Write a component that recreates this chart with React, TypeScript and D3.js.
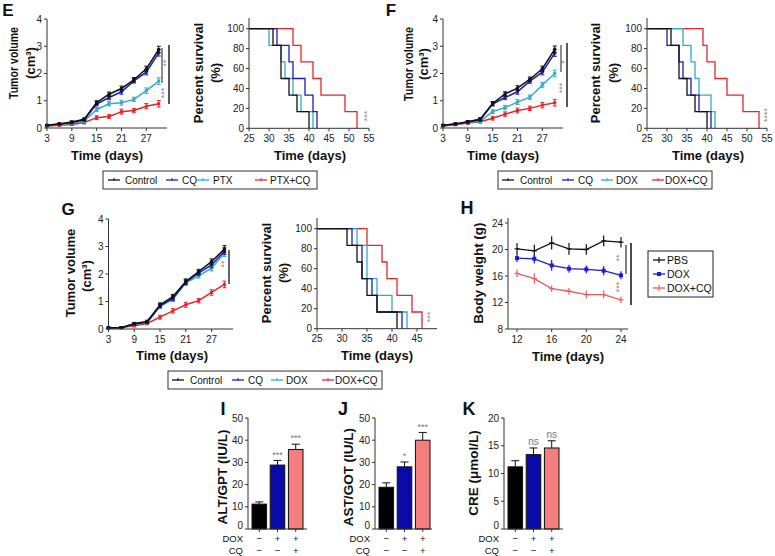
import React from 'react';
import * as d3 from 'd3';

const FONT = '"Liberation Sans", Arial, Helvetica, sans-serif';

// ---------- Tumor volume data (cm3) ----------
const tumorDays = [3, 6, 9, 12, 15, 18, 21, 24, 27, 30];
const tumorTicksX = [3, 9, 15, 21, 27];
const tumorTicksY = [0, 1, 2, 3, 4];
const tumorErr = [0.02, 0.03, 0.04, 0.05, 0.07, 0.08, 0.09, 0.08, 0.1, 0.12];

const eControl = [0.1, 0.15, 0.22, 0.32, 0.93, 1.24, 1.45, 1.77, 2.17, 2.88];
const eCQ = [0.1, 0.15, 0.2, 0.3, 0.88, 1.12, 1.33, 1.73, 2.05, 2.76];
const ePTX = [0.08, 0.13, 0.18, 0.25, 0.68, 0.89, 0.93, 1.05, 1.37, 1.72];
const ePTXCQ = [0.07, 0.1, 0.13, 0.2, 0.38, 0.42, 0.6, 0.64, 0.8, 0.89];

const fControl = [0.1, 0.15, 0.23, 0.33, 0.9, 1.25, 1.46, 1.79, 2.17, 2.89];
const fCQ = [0.1, 0.15, 0.22, 0.3, 0.88, 1.12, 1.33, 1.72, 2.05, 2.75];
const fDOX = [0.08, 0.13, 0.2, 0.25, 0.6, 0.75, 0.95, 1.13, 1.58, 2.0];
const fDOXCQ = [0.07, 0.12, 0.18, 0.23, 0.36, 0.51, 0.64, 0.72, 0.84, 0.93];

const gControl = [0.05, 0.05, 0.2, 0.27, 0.88, 1.18, 1.73, 2.09, 2.45, 2.91];
const gCQ = [0.05, 0.05, 0.18, 0.25, 0.84, 1.12, 1.7, 2.03, 2.33, 2.83];
const gDOX = [0.05, 0.05, 0.17, 0.23, 0.82, 1.08, 1.68, 1.93, 2.21, 2.76];
const gDOXCQ = [0.03, 0.05, 0.12, 0.2, 0.43, 0.66, 0.88, 1.03, 1.33, 1.62];

// ---------- Survival data: [day, percent] steps ----------
const survTicksY = [0, 20, 40, 60, 80, 100];
const survTicksX55 = [25, 30, 35, 40, 45, 50, 55];
const survTicksX45 = [25, 30, 35, 40, 45];

const eSurvControl = [[25, 100], [31, 83.3], [33, 50], [35, 33.3], [37, 16.7], [40, 0]];
const eSurvCQ = [[25, 100], [32, 83.3], [35, 66.7], [36, 50], [39, 33.3], [41, 16.7], [42, 0]];
const eSurvPTX = [[25, 100], [30, 83.3], [33, 66.7], [34, 50], [36, 33.3], [38, 16.7], [41, 0]];
const eSurvPTXCQ = [[25, 100], [36, 83.3], [38, 66.7], [41, 50], [43, 33.3], [49, 16.7], [52, 0]];

const fSurvControl = [[25, 100], [31, 83.3], [33, 50], [35, 33.3], [37, 16.7], [40, 0]];
const fSurvCQ = [[25, 100], [30, 83.3], [33, 66.7], [34, 50], [36, 33.3], [38, 16.7], [41, 0]];
const fSurvDOX = [[25, 100], [34, 83.3], [36, 66.7], [37, 50], [38, 33.3], [41, 16.7], [42, 0]];
const fSurvDOXCQ = [[25, 100], [39, 83.3], [40, 66.7], [42, 50], [45, 33.3], [49, 16.7], [53, 0]];

const gSurvControl = [[25, 100], [31, 83.3], [33, 66.7], [34, 50], [35, 33.3], [37, 16.7], [41, 0]];
const gSurvCQ = [[25, 100], [32, 83.3], [34, 50], [36, 33.3], [37, 16.7], [42, 0]];
const gSurvDOX = [[25, 100], [33, 83.3], [35, 50], [37, 33.3], [40, 16.7], [43, 0]];
const gSurvDOXCQ = [[25, 100], [35, 83.3], [38, 66.7], [39, 50], [41, 33.3], [44, 16.7], [46, 0]];

// ---------- Body weight (g) ----------
const hDays = [12, 14, 16, 18, 20, 22, 24];
const hTicksX = [12, 16, 20, 24];
const hTicksY = [8, 12, 16, 20, 24];
const hPBS = [20.1, 19.8, 21.0, 20.1, 20.0, 21.3, 21.1];
const hPBSErr = [0.9, 0.9, 1.0, 0.9, 0.8, 0.8, 0.8];
const hDOX = [18.7, 18.6, 17.6, 17.1, 17.0, 16.8, 16.1];
const hDOXErr = [0.6, 0.7, 0.8, 0.6, 0.6, 0.7, 0.6];
const hDOXCQ = [16.4, 15.6, 14.1, 13.7, 13.2, 13.2, 12.4];
const hDOXCQErr = [0.6, 0.8, 0.5, 0.5, 0.6, 0.6, 0.5];

// ---------- Serum biochemistry ----------
const doxRow = ['−', '+', '+'];
const cqRow = ['−', '−', '+'];
const iValues = [11.2, 28.8, 35.8];
const iErr = [1.0, 2.1, 2.4];
const iSig = ['', '***', '***'];
const jValues = [18.8, 28.0, 40.0];
const jErr = [2.0, 2.2, 3.5];
const jSig = ['', '*', '***'];
const kValues = [11.2, 13.4, 14.6];
const kErr = [1.1, 1.2, 1.3];
const kSig = ['', 'ns', 'ns'];
const barTicks50 = [0, 10, 20, 30, 40, 50];
const barTicks20 = [0, 5, 10, 15, 20];

// ---------- legends ----------
const legendE = ['Control', 'CQ', 'PTX', 'PTX+CQ'];
const legendFG = ['Control', 'CQ', 'DOX', 'DOX+CQ'];
const legendH = ['PBS', 'DOX', 'DOX+CQ'];

const C_BLACK = '#111';
const C_BLUE = '#1c1cb8';
const C_TEAL = '#33abc6';
const C_RED = '#e4262b';
const AX = '#333';
const TICK_FS = 10;

function Rot({ x, y, children, fs = 13, len, bold = true, fill = '#111' }: any) {
  return (
    <text
      transform={`translate(${x},${y}) rotate(-90)`}
      textAnchor="middle"
      dy="0.35em"
      fontSize={fs}
      fontWeight={bold ? 'bold' : 'normal'}
      fill={fill}
      textLength={len}
      lengthAdjust={len ? 'spacingAndGlyphs' : undefined}
    >
      {children}
    </text>
  );
}

function Label({ x, y, children, fs = 13, anchor = 'middle', bold = true, fill = '#111' }: any) {
  return (
    <text x={x} y={y} dy="0.35em" textAnchor={anchor} fontSize={fs} fontWeight={bold ? 'bold' : 'normal'} fill={fill}>
      {children}
    </text>
  );
}

function YAxis({ x, scale, ticks, top, zeroShift = 0 }: any) {
  const [r0, r1] = scale.range();
  return (
    <g>
      <line x1={x} x2={x} y1={top ?? r1} y2={r0} stroke={AX} strokeWidth={1} />
      {ticks.map((t: number) => (
        <g key={t}>
          <line x1={x - 3} x2={x} y1={scale(t)} y2={scale(t)} stroke={AX} />
          <text
            x={x - 5}
            y={scale(t) - (t === 0 ? zeroShift : 0)}
            dy="0.35em"
            textAnchor="end"
            fontSize={TICK_FS}
            fill="#222"
          >
            {t}
          </text>
        </g>
      ))}
    </g>
  );
}

function XAxis({ y, scale, ticks, left, right }: any) {
  const [r0, r1] = scale.range();
  return (
    <g>
      <line x1={left ?? r0} x2={right ?? r1} y1={y} y2={y} stroke={AX} strokeWidth={1} />
      {ticks.map((t: number) => (
        <g key={t}>
          <line x1={scale(t)} x2={scale(t)} y1={y} y2={y + 3} stroke={AX} />
          <text x={scale(t)} y={y + 10} dy="0.35em" textAnchor="middle" fontSize={TICK_FS} fill="#222">
            {t}
          </text>
        </g>
      ))}
    </g>
  );
}

function TumorPanel({ axisX, xEnd, yTop, yBottom, series }: any) {
  const x = d3.scaleLinear().domain([3, 32]).range([axisX, xEnd]);
  const y = d3.scaleLinear().domain([0, 4]).range([yBottom, yTop]);
  const line = d3
    .line<number>()
    .x((_, i) => x(tumorDays[i]))
    .y((d) => y(d));
  return (
    <g>
      {series.map((s: any, si: number) => (
        <g key={si}>
          <path d={line(s.values) || ''} fill="none" stroke={s.color} strokeWidth={1.5} />
          {s.values.map((v: number, i: number) => {
            const cx = x(tumorDays[i]);
            const e = tumorErr[i];
            return (
              <g key={i} stroke={s.color} strokeWidth={1}>
                <line x1={cx} x2={cx} y1={y(v + e)} y2={y(v - e)} />
                <line x1={cx - 2} x2={cx + 2} y1={y(v + e)} y2={y(v + e)} />
                <line x1={cx - 2} x2={cx + 2} y1={y(v - e)} y2={y(v - e)} />
                <rect x={cx - 1.5} y={y(v) - 1.5} width={3} height={3} fill={s.color} stroke="none" />
              </g>
            );
          })}
        </g>
      ))}
      <YAxis x={axisX} scale={y} ticks={tumorTicksY} />
      <XAxis y={yBottom} scale={x} ticks={tumorTicksX} />
    </g>
  );
}

function SurvPanel({ x0, x1, domainEnd, ticksX, yTop, yBottom, axisTop, series }: any) {
  const x = d3.scaleLinear().domain([25, domainEnd]).range([x0, x1]);
  const y = d3.scaleLinear().domain([0, 100]).range([yBottom, yTop]);
  const line = d3
    .line<number[]>()
    .x((d) => x(d[0]))
    .y((d) => y(d[1]))
    .curve(d3.curveStepAfter);
  return (
    <g>
      {series.map((s: any, si: number) => (
        <path key={si} d={line(s.values) || ''} fill="none" stroke={s.color} strokeWidth={1.3} />
      ))}
      <YAxis x={x0} scale={y} ticks={survTicksY} top={axisTop} />
      <XAxis y={yBottom} scale={x} ticks={ticksX} />
    </g>
  );
}

function Legend({ x, y, w, h, items, colors, lineOffsets, textOffsets }: any) {
  return (
    <g>
      <rect x={x} y={y} width={w} height={h} fill="#fff" stroke="#333" strokeWidth={1} />
      {items.map((it: string, i: number) => {
        const lx = x + lineOffsets[i];
        const cy = y + h / 2;
        return (
          <g key={it}>
            <line x1={lx} x2={lx + 12} y1={cy} y2={cy} stroke={colors[i]} strokeWidth={1.3} />
            <line x1={lx + 6} x2={lx + 6} y1={cy - 2} y2={cy + 1} stroke={colors[i]} strokeWidth={1} />
            <text x={x + textOffsets[i]} y={cy} dy="0.35em" fontSize={10} fill="#111">
              {it}
            </text>
          </g>
        );
      })}
    </g>
  );
}

function BarPanel({ axisX, axisEnd, yTop, yBottom, max, ticks, values, errs, sig }: any) {
  const y = d3.scaleLinear().domain([0, max]).range([yBottom, yTop]);
  const x = d3.scaleBand<number>().domain([0, 1, 2]).range([axisX + 4, axisX + 55]).paddingInner(0.2).paddingOuter(0);
  const colors = ['#000000', '#0a0aa8', '#f47d7d'];
  const bw = x.bandwidth();
  const rowDOX = 538.5;
  const rowCQ = 550.5;
  return (
    <g>
      {values.map((v: number, i: number) => {
        const bx = x(i)!;
        const cx = bx + bw / 2;
        const top = y(v + errs[i]);
        return (
          <g key={i}>
            <line x1={cx} x2={cx} y1={y(v)} y2={top} stroke="#111" strokeWidth={1} />
            <line x1={cx - 4} x2={cx + 4} y1={top} y2={top} stroke="#111" strokeWidth={1} />
            <rect x={bx} y={y(v)} width={bw} height={yBottom - y(v)} fill={colors[i]} stroke="#111" strokeWidth={1} />
            {sig[i] && (
              <text x={cx} y={top - 6} dy="0.35em" textAnchor="middle" fontSize={sig[i] === 'ns' ? 10 : 9} fill="#777">
                {sig[i]}
              </text>
            )}
            <text x={cx} y={rowDOX} dy="0.35em" textAnchor="middle" fontSize={9.5} fill="#111">
              {doxRow[i]}
            </text>
            <text x={cx} y={rowCQ} dy="0.35em" textAnchor="middle" fontSize={9.5} fill="#111">
              {cqRow[i]}
            </text>
          </g>
        );
      })}
      <YAxis x={axisX} scale={y} ticks={ticks} zeroShift={4} />
      <line x1={axisX} x2={axisEnd} y1={yBottom} y2={yBottom} stroke={AX} />
      {[0, 1, 2].map((i) => (
        <line key={i} x1={x(i)! + bw / 2} x2={x(i)! + bw / 2} y1={yBottom} y2={yBottom + 3} stroke={AX} />
      ))}
      <text x={axisX - 5} y={rowDOX} dy="0.35em" textAnchor="end" fontSize={9.5} fill="#111">DOX</text>
      <text x={axisX - 5} y={rowCQ} dy="0.35em" textAnchor="end" fontSize={9.5} fill="#111">CQ</text>
    </g>
  );
}

function WeightPanel() {
  const x = d3.scaleLinear().domain([12, 24]).range([517, 621]);
  const y = d3.scaleLinear().domain([8, 24]).range([329, 223]);
  const line = d3
    .line<number>()
    .x((_, i) => x(hDays[i]))
    .y((d) => y(d));
  const series = [
    { v: hPBS, e: hPBSErr, c: '#111', m: 'plus' },
    { v: hDOX, e: hDOXErr, c: '#1a1ae0', m: 'sq' },
    { v: hDOXCQ, e: hDOXCQErr, c: '#f0595c', m: 'plus' },
  ];
  return (
    <g>
      {series.map((s, si) => (
        <g key={si}>
          <path d={line(s.v) || ''} fill="none" stroke={s.c} strokeWidth={1.3} />
          {s.v.map((v, i) => {
            const cx = x(hDays[i]);
            return (
              <g key={i} stroke={s.c}>
                <line x1={cx} x2={cx} y1={y(v + s.e[i])} y2={y(v - s.e[i])} strokeWidth={1.2} />
                {s.m === 'sq' ? (
                  <rect x={cx - 2} y={y(v) - 2} width={4} height={4} fill={s.c} stroke="none" />
                ) : (
                  <line x1={cx - 2.5} x2={cx + 2.5} y1={y(v)} y2={y(v)} strokeWidth={1.2} />
                )}
              </g>
            );
          })}
        </g>
      ))}
      <YAxis x={508} scale={y} ticks={hTicksY} top={218} />
      <XAxis y={329} scale={x} ticks={hTicksX} left={508} right={628} />
      {/* significance */}
      <line x1={626} x2={626} y1={245} y2={274} stroke="#555" strokeWidth={1.5} />
      <line x1={631} x2={631} y1={243} y2={305} stroke="#111" strokeWidth={1.5} />
      <Rot x={619} y={258} fs={9} bold={false} fill="#888">**</Rot>
      <Rot x={619} y={287} fs={9} bold={false} fill="#888">***</Rot>
      {/* legend */}
      <rect x={648} y={251} width={65} height={46} fill="#fff" stroke="#222" />
      {legendH.map((t, i) => {
        const cy = 260 + i * 14;
        const s = series[i];
        return (
          <g key={t}>
            <line x1={653} x2={665} y1={cy} y2={cy} stroke={s.c} strokeWidth={1.3} />
            {s.m === 'sq' ? (
              <rect x={657} y={cy - 2} width={4} height={4} fill={s.c} />
            ) : (
              <line x1={659} x2={659} y1={cy - 3} y2={cy + 3} stroke={s.c} strokeWidth={1.2} />
            )}
            <text x={667} y={cy} dy="0.35em" fontSize={10.5} fill="#111">{t}</text>
          </g>
        );
      })}
      <Rot x={478} y={273} fs={13.5}>Body weight (g)</Rot>
      <Label x={568} y={356}>Time (days)</Label>
      <Label x={467} y={208} fs={18} anchor="middle">H</Label>
    </g>
  );
}

export default function App() {
  const eSeries = [
    { values: ePTXCQ, color: C_RED },
    { values: ePTX, color: C_TEAL },
    { values: eCQ, color: C_BLUE },
    { values: eControl, color: C_BLACK },
  ];
  const fSeries = [
    { values: fDOXCQ, color: C_RED },
    { values: fDOX, color: C_TEAL },
    { values: fCQ, color: C_BLUE },
    { values: fControl, color: C_BLACK },
  ];
  const gSeries = [
    { values: gDOXCQ, color: C_RED },
    { values: gDOX, color: C_TEAL },
    { values: gCQ, color: C_BLUE },
    { values: gControl, color: C_BLACK },
  ];
  const legendColors = [C_BLACK, C_BLUE, C_TEAL, C_RED];
  const fgLineOff = [4, 64, 103, 154];
  const fgTextOff = [22, 80, 118, 167];
  const eLineOff = [5, 63, 94, 152];
  const eTextOff = [22, 79, 110, 167];

  return (
    <svg
      width={775}
      height={556}
      viewBox="0 0 775 556"
      style={{ position: 'absolute', left: 0, top: 0, background: '#fff' }}
      fontFamily={FONT}
    >
      <rect x={0} y={0} width={775} height={556} fill="#fff" />

      {/* ---------- Panel E ---------- */}
      <Label x={8} y={10} fs={17} anchor="middle">E</Label>
      <TumorPanel axisX={47} xEnd={167} yTop={19} yBottom={128} series={eSeries} />
      <Rot x={13} y={63} len={72}>Tumor volume</Rot>
      <Rot x={30} y={63}>(cm³)</Rot>
      <Label x={107} y={155}>Time (days)</Label>
      <line x1={162} x2={162} y1={48} y2={83} stroke="#666" strokeWidth={1.5} />
      <line x1={169} x2={169} y1={45} y2={104} stroke="#222" strokeWidth={1.5} />
      <Rot x={165.5} y={63} fs={9} bold={false} fill="#888">**</Rot>
      <Rot x={164} y={93} fs={9} bold={false} fill="#888">***</Rot>

      <SurvPanel
        x0={249}
        x1={369}
        domainEnd={55}
        ticksX={survTicksX55}
        yTop={28.7}
        yBottom={128.3}
        axisTop={18}
        series={[
          { values: eSurvPTXCQ, color: C_RED },
          { values: eSurvPTX, color: C_TEAL },
          { values: eSurvCQ, color: C_BLUE },
          { values: eSurvControl, color: C_BLACK },
        ]}
      />
      <Rot x={198} y={73}>Percent survival</Rot>
      <Rot x={215} y={73}>(%)</Rot>
      <Label x={310} y={155}>Time (days)</Label>
      <Rot x={367} y={116} fs={9} bold={false} fill="#888">***</Rot>

      <Legend x={103} y={171} w={214} h={18} items={legendE} colors={legendColors} lineOffsets={eLineOff} textOffsets={eTextOff} />

      {/* ---------- Panel F ---------- */}
      <Label x={391} y={10} fs={17} anchor="middle">F</Label>
      <TumorPanel axisX={443} xEnd={563} yTop={19} yBottom={128} series={fSeries} />
      <Rot x={408} y={64} len={74}>Tumor volume</Rot>
      <Rot x={423} y={64}>(cm³)</Rot>
      <Label x={503} y={155}>Time (days)</Label>
      <line x1={561} x2={561} y1={45} y2={72} stroke="#666" strokeWidth={1.5} />
      <line x1={567} x2={567} y1={43} y2={107} stroke="#222" strokeWidth={1.5} />
      <Rot x={564} y={62} fs={9} bold={false} fill="#888">*</Rot>
      <Rot x={562} y={88} fs={9} bold={false} fill="#888">***</Rot>

      <SurvPanel
        x0={647}
        x1={767}
        domainEnd={55}
        ticksX={survTicksX55}
        yTop={28.7}
        yBottom={128.3}
        axisTop={18}
        series={[
          { values: fSurvDOXCQ, color: C_RED },
          { values: fSurvDOX, color: C_TEAL },
          { values: fSurvCQ, color: C_BLUE },
          { values: fSurvControl, color: C_BLACK },
        ]}
      />
      <Rot x={595} y={73}>Percent survival</Rot>
      <Rot x={613} y={73}>(%)</Rot>
      <Label x={708} y={155}>Time (days)</Label>
      <Rot x={767} y={115} fs={9} bold={false} fill="#888">****</Rot>

      <Legend x={498} y={171} w={214} h={18} items={legendFG} colors={legendColors} lineOffsets={fgLineOff} textOffsets={fgTextOff} />

      {/* ---------- Panel G ---------- */}
      <Label x={68} y={209} fs={17} anchor="middle">G</Label>
      <TumorPanel axisX={108.5} xEnd={233} yTop={219} yBottom={329} series={gSeries} />
      <Rot x={70} y={273}>Tumor volume</Rot>
      <Rot x={86} y={276}>(cm³)</Rot>
      <Label x={172} y={355}>Time (days)</Label>
      <line x1={229} x2={229} y1={250} y2={284} stroke="#333" strokeWidth={1.5} />
      <Rot x={224} y={264} fs={9} bold={false} fill="#888">**</Rot>

      <SurvPanel
        x0={317}
        x1={437}
        domainEnd={49}
        ticksX={survTicksX45}
        yTop={228.7}
        yBottom={328.7}
        axisTop={218}
        series={[
          { values: gSurvDOXCQ, color: C_RED },
          { values: gSurvDOX, color: C_TEAL },
          { values: gSurvCQ, color: C_BLUE },
          { values: gSurvControl, color: C_BLACK },
        ]}
      />
      <Rot x={266} y={273}>Percent survival</Rot>
      <Rot x={283} y={273}>(%)</Rot>
      <Label x={377} y={355}>Time (days)</Label>
      <Rot x={430} y={317} fs={9} bold={false} fill="#888">***</Rot>

      <Legend x={168} y={371} w={214} h={18} items={legendFG} colors={legendColors} lineOffsets={fgLineOff} textOffsets={fgTextOff} />

      {/* ---------- Panel H ---------- */}
      <WeightPanel />

      {/* ---------- Panels I, J, K ---------- */}
      <Label x={223} y={409} fs={18} anchor="middle">I</Label>
      <BarPanel axisX={248} axisEnd={307} yTop={418} yBottom={529} max={50} ticks={barTicks50} values={iValues} errs={iErr} sig={iSig} />
      <Rot x={222} y={477} fs={13.5}>ALT/GPT (IU/L)</Rot>

      <Label x={343} y={409} fs={18} anchor="middle">J</Label>
      <BarPanel axisX={375} axisEnd={432} yTop={418} yBottom={529} max={50} ticks={barTicks50} values={jValues} errs={jErr} sig={jSig} />
      <Rot x={348} y={477} fs={13.5}>AST/GOT (IU/L)</Rot>

      <Label x={469} y={409} fs={18} anchor="middle">K</Label>
      <BarPanel axisX={504} axisEnd={563} yTop={418} yBottom={529} max={20} ticks={barTicks20} values={kValues} errs={kErr} sig={kSig} />
      <Rot x={473} y={473} fs={13.5}>CRE (μmol/L)</Rot>
    </svg>
  );
}
